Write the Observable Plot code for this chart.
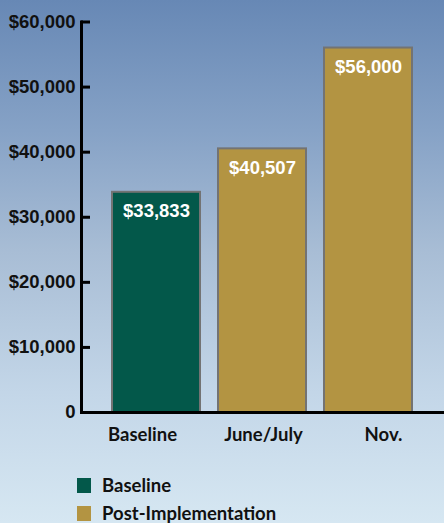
<!DOCTYPE html>
<html>
<head>
<meta charset="utf-8">
<script src="https://cdn.jsdelivr.net/npm/d3@7"></script>
<script src="https://cdn.jsdelivr.net/npm/@observablehq/plot@0.6"></script>
<style>
  html, body { margin: 0; padding: 0; }
  #wrap {
    width: 444px; height: 523px; position: relative; overflow: hidden;
    background: linear-gradient(to bottom, #6788b5 0%, #86a2c6 25%, #a8bdd5 48%, #c3d6e8 75%, #d6e7f2 100%);
  }
  #chart svg { display: block; background: transparent; }
  #legend { position: absolute; left: 77px; top: 471px; font-family: Lato, "Open Sans", sans-serif; font-weight: 700; font-size: 18.5px; line-height: 20px; color: #111; }
  .item { display: flex; align-items: center; height: 28px; }
  .sw { width: 14px; height: 15px; margin-right: 11px; }
</style>
</head>
<body>
<div id="wrap">
  <div id="chart"></div>
  <div id="legend"></div>
</div>
<script>
const categories = ["Baseline", "June/July", "Nov."];
const values = [33833, 40507, 56000];
const groups = ["Baseline", "Post-Implementation", "Post-Implementation"];
const valueLabels = ["$33,833", "$40,507", "$56,000"];
const yTicks = [0, 10000, 20000, 30000, 40000, 50000, 60000];
const legendNames = ["Baseline", "Post-Implementation"];
const legendColors = ["#03584a", "#b39442"];

const data = categories.map((c, i) => ({cat: c, value: values[i], group: groups[i], label: valueLabels[i]}));
const labelShift = {"Baseline": -14, "June/July": 1, "Nov.": 15};
const fmt = d3.format(",");

const plot = Plot.plot({
  width: 444,
  height: 450,
  marginTop: 21.5,
  marginBottom: 38,
  marginLeft: 81,
  marginRight: 1,
  style: {background: "transparent"},
  x: {domain: categories, paddingInner: 0.174, paddingOuter: 0.29, axis: null},
  y: {domain: [0, 60000], axis: null},
  color: {domain: legendNames, range: legendColors},
  marks: [
    Plot.barY(data, {x: "cat", y: "value", fill: "group", stroke: "#737373", strokeWidth: 2}),
    Plot.frame({anchor: "left", stroke: "#000", strokeWidth: 3}),
    Plot.frame({anchor: "bottom", stroke: "#000", strokeWidth: 3}),
    Plot.axisY({ticks: yTicks, tickSize: -9, strokeWidth: 3, tickPadding: 15,
      tickFormat: d => d === 0 ? "0" : "$" + fmt(d),
      fontSize: 18.5, fontWeight: "bold", fontFamily: "Liberation Sans, Arial, sans-serif", fill: "#111", label: null}),
    ...categories.map(c => Plot.axisX([c], {tickSize: 0, tickPadding: 15, dx: labelShift[c],
      fontSize: 18.5, fontWeight: "bold", fontFamily: "Lato, Open Sans, sans-serif", fill: "#111", label: null})),
    Plot.text(data, {x: "cat", y: "value", text: "label", dy: 19, fill: "white",
      fontSize: 18.5, fontWeight: "bold", fontFamily: "Liberation Sans, Arial, sans-serif"})
  ]
});
document.getElementById("chart").appendChild(plot);

const legend = document.getElementById("legend");
legendNames.forEach((n, i) => {
  const row = document.createElement("div");
  row.className = "item";
  const sw = document.createElement("div");
  sw.className = "sw";
  sw.style.background = legendColors[i];
  const t = document.createElement("span");
  t.textContent = n;
  row.appendChild(sw); row.appendChild(t);
  legend.appendChild(row);
});
</script>
</body>
</html>
